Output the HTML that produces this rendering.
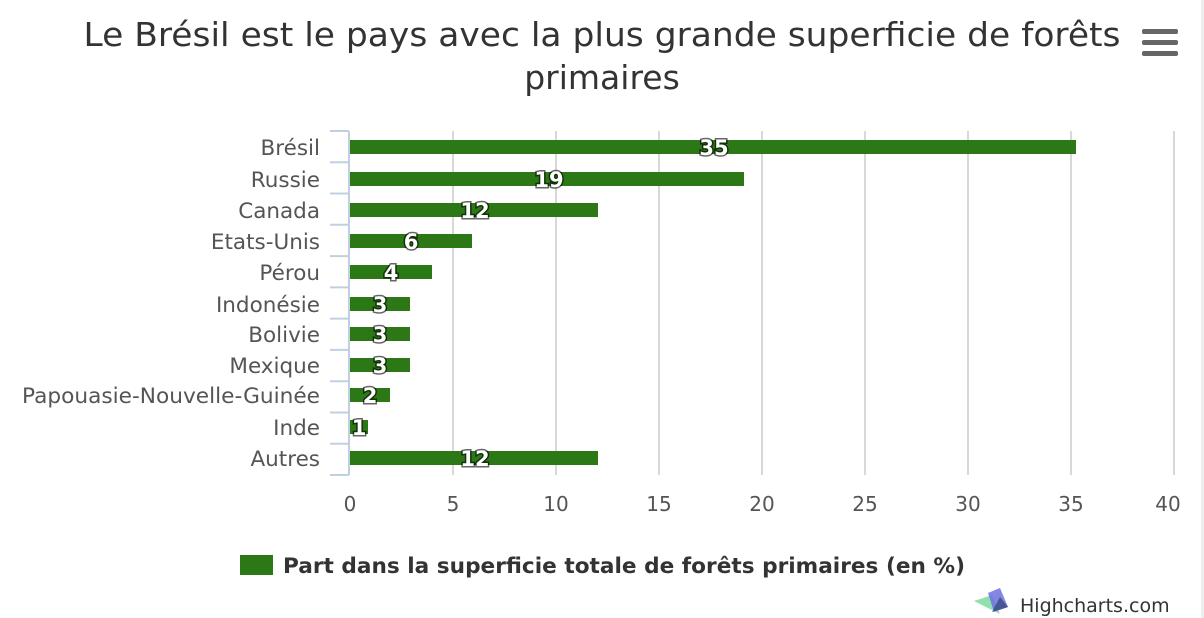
<!DOCTYPE html>
<html><head><meta charset="utf-8"><style>
body{margin:0;background:#fff;}
svg{display:block;font-family:"DejaVu Sans","Liberation Sans",sans-serif;}
</style></head><body>
<svg width="1204" height="618" viewBox="0 0 1204 618">
<rect width="1204" height="618" fill="#fff"/>
<rect x="1201" y="0" width="3" height="618" fill="#eeeeee"/>
<text x="602" y="46" font-size="33" fill="#333" text-anchor="middle" textLength="1037" lengthAdjust="spacingAndGlyphs">Le Brésil est le pays avec la plus grande superficie de forêts</text>
<text x="602" y="89" font-size="33" fill="#333" text-anchor="middle">primaires</text>
<g fill="#666"><rect x="1142" y="29" width="36" height="5" rx="2"/><rect x="1142" y="40" width="36" height="5" rx="2"/><rect x="1142" y="51" width="36" height="5" rx="2"/></g>
<g stroke="#d8d8d8" stroke-width="2">
<line x1="453" y1="131" x2="453" y2="475"/><line x1="556" y1="131" x2="556" y2="475"/><line x1="659" y1="131" x2="659" y2="475"/><line x1="762" y1="131" x2="762" y2="475"/><line x1="865" y1="131" x2="865" y2="475"/><line x1="968" y1="131" x2="968" y2="475"/><line x1="1071" y1="131" x2="1071" y2="475"/><line x1="1174" y1="131" x2="1174" y2="475"/>
</g>
<g stroke="#c0d0e0" stroke-width="2">
<line x1="349" y1="131" x2="349" y2="475"/>
<line x1="330" y1="131" x2="349" y2="131"/><line x1="330" y1="162.3" x2="349" y2="162.3"/><line x1="330" y1="193.5" x2="349" y2="193.5"/><line x1="330" y1="224.8" x2="349" y2="224.8"/><line x1="330" y1="256.1" x2="349" y2="256.1"/><line x1="330" y1="287.4" x2="349" y2="287.4"/><line x1="330" y1="318.6" x2="349" y2="318.6"/><line x1="330" y1="349.9" x2="349" y2="349.9"/><line x1="330" y1="381.2" x2="349" y2="381.2"/><line x1="330" y1="412.5" x2="349" y2="412.5"/><line x1="330" y1="443.7" x2="349" y2="443.7"/><line x1="330" y1="475" x2="349" y2="475"/>
</g>
<g fill="#2c7817">
<rect x="350" y="140" width="726" height="14"/>
<rect x="350" y="172" width="394" height="14"/>
<rect x="350" y="203" width="248" height="14"/>
<rect x="350" y="234" width="122" height="14"/>
<rect x="350" y="265" width="82" height="14"/>
<rect x="350" y="297" width="60" height="14"/>
<rect x="350" y="327" width="60" height="14"/>
<rect x="350" y="358" width="60" height="14"/>
<rect x="350" y="388" width="40" height="14"/>
<rect x="350" y="420" width="18" height="14"/>
<rect x="350" y="451" width="248" height="14"/>
</g>
<g font-size="21.5" fill="#555" text-anchor="end">
<text x="320" y="155">Brésil</text><text x="320" y="187">Russie</text><text x="320" y="218">Canada</text><text x="320" y="249">Etats-Unis</text><text x="320" y="280">Pérou</text><text x="320" y="312">Indonésie</text><text x="320" y="342">Bolivie</text><text x="320" y="373">Mexique</text><text x="320" y="403" textLength="298" lengthAdjust="spacingAndGlyphs">Papouasie-Nouvelle-Guinée</text><text x="320" y="435">Inde</text><text x="320" y="466">Autres</text>
</g>
<g font-size="21" font-weight="bold" fill="#fff" text-anchor="middle" stroke="#000" stroke-width="3" stroke-opacity="0.6" paint-order="stroke">
<text x="714" y="155">35</text><text x="549" y="187">19</text><text x="475" y="218">12</text><text x="411" y="249">6</text><text x="391" y="280">4</text><text x="380" y="312">3</text><text x="380" y="342">3</text><text x="380" y="373">3</text><text x="370" y="403">2</text><text x="359" y="435">1</text><text x="475" y="466">12</text>
</g>
<g font-size="20" fill="#555" text-anchor="middle">
<text x="350" y="511">0</text><text x="453" y="511">5</text><text x="556" y="511">10</text><text x="659" y="511">15</text><text x="762" y="511">20</text><text x="865" y="511">25</text><text x="968" y="511">30</text><text x="1071" y="511">35</text><text x="1168" y="511">40</text>
</g>
<rect x="240" y="555" width="33" height="20" fill="#2c7817"/>
<text x="283" y="573" font-size="21.5" font-weight="bold" fill="#333" textLength="682" lengthAdjust="spacingAndGlyphs">Part dans la superficie totale de forêts primaires (en %)</text>
<polygon points="974,601 992,595 1000,614" fill="#90e0b0"/>
<polygon points="988,593 1000,588 1008,607 994,612" fill="#7070e0" opacity="0.85"/>
<polygon points="992,612 1008,607 1000,597" fill="#3a4a80" opacity="0.8"/>
<text x="1020" y="612" font-size="19" fill="#333">Highcharts.com</text>
</svg>
</body></html>
